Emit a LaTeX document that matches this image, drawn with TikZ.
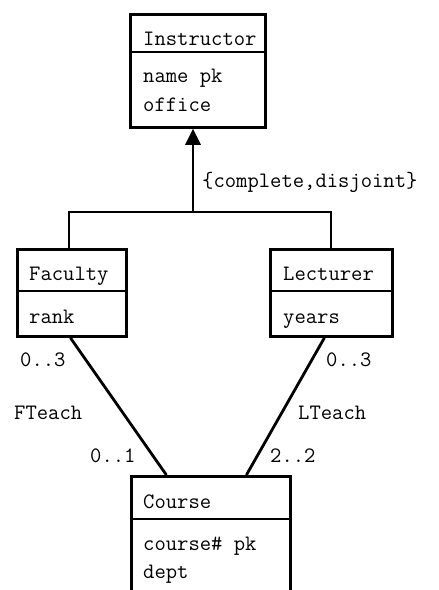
\documentclass[tikz,border=0pt]{standalone}
\usepackage{fontspec}
\usetikzlibrary{arrows.meta,calc}
\begin{document}
\begin{tikzpicture}[x=1pt,y=-1pt,
  classbox/.style={draw,line width=2.8pt,rectangle,inner sep=0pt,anchor=north west},
  divider/.style={line width=1.8pt},
  conn/.style={line width=2.8pt},
  txt/.style={anchor=base west,inner sep=0pt,font=\ttfamily\fontsize{22}{22}\selectfont},
  lbl/.style={anchor=base west,inner sep=0pt,font=\ttfamily\fontsize{22}{22}\selectfont}]
\useasboundingbox (0,0) rectangle (439,590);
\clip (0,0) rectangle (439,590);
% class boxes
\node[classbox,minimum width=135pt,minimum height=113pt] (Instructor) at (129,13) {};
\node[classbox,minimum width=109pt,minimum height=87pt] (Faculty) at (16,248) {};
\node[classbox,minimum width=122pt,minimum height=87pt] (Lecturer) at (269,248) {};
\node[classbox,minimum width=159pt,minimum height=150pt] (Course) at (130,475) {};
% dividers
\draw[divider] (Instructor.west |- 0,52) -- (Instructor.east |- 0,52);
\draw[divider] (Faculty.west |- 0,291) -- (Faculty.east |- 0,291);
\draw[divider] (Lecturer.west |- 0,291) -- (Lecturer.east |- 0,291);
\draw[divider] (Course.west |- 0,519) -- (Course.east |- 0,519);
% texts
\node[txt] (tI) at (143,45) {Instructor};
\node[txt] (tI1) at (143,82) {name pk};
\node[txt] (tI2) at (143,111) {office};
\node[txt] (tF) at (29,280) {Faculty};
\node[txt] (tF1) at (29,323) {rank};
\node[txt] (tL) at (283,280) {Lecturer};
\node[txt] (tL1) at (283,323) {years};
\node[txt] (tC) at (143,508) {Course};
\node[txt] (tC1) at (143,550) {course\# pk};
\node[txt] (tC2) at (143,578) {dept};
% generalization
\coordinate (junc) at (193,212);
\coordinate (jl) at (69,212);
\coordinate (jr) at (331,212);
\draw[conn,-{Triangle[width=15pt,length=16pt]}] (junc) -- (Instructor.south -| junc);
\draw[conn] (Faculty.north -| jl) -- (jl) -- (jr) -- (Lecturer.north -| jr);
\node[lbl] (gs) at (202,187) {\{complete,disjoint\}};
% associations
\draw[conn] ([xshift=-1.5pt]Faculty.south) -- ([xshift=-44.5pt]Course.north);
\draw[conn] ([xshift=-7pt]Lecturer.south) -- ([xshift=35.5pt]Course.north);
\node[lbl] (m1) at (20,366) {0..3};
\node[lbl] (a1) at (14,419) {FTeach};
\node[lbl] (m2) at (90,462) {0..1};
\node[lbl] (m3) at (326,366) {0..3};
\node[lbl] (a2) at (298,419) {LTeach};
\node[lbl] (m4) at (270,462) {2..2};
\end{tikzpicture}
\end{document}
